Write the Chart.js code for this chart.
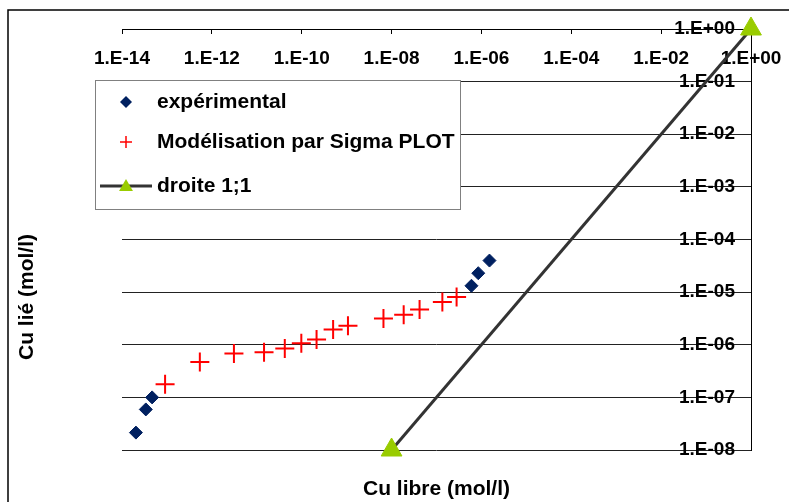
<!DOCTYPE html>
<html>
<head>
<meta charset="utf-8">
<script src="https://cdn.jsdelivr.net/npm/chart.js@4/dist/chart.umd.min.js"></script>
<style>
  html, body { margin:0; padding:0; background:#fff; }
  canvas { display:block; }
</style>
</head>
<body>
<canvas id="cuChart" width="789" height="502"></canvas>
<script>
// ---------------------------
// Data
// ---------------------------
const expX = [2.04e-14, 3.39e-14, 4.68e-14, 6.0e-7, 8.5e-7, 1.51e-6];
const expY = [2.14e-8, 5.9e-8, 1.0e-7, 1.32e-5, 2.29e-5, 3.98e-5];

const modX = [9.1e-14, 5.4e-13, 3.1e-12, 1.45e-11, 4.2e-11, 9.8e-11, 2.14e-10,
              5.0e-10, 1.07e-9, 6.6e-9, 1.86e-8, 4.2e-8, 1.35e-7, 2.8e-7];
const modY = [1.78e-7, 4.7e-7, 6.8e-7, 7.2e-7, 8.5e-7, 1.07e-6, 1.26e-6,
              1.95e-6, 2.29e-6, 3.16e-6, 3.7e-6, 4.7e-6, 6.5e-6, 8.1e-6];

const lineX = [1e-8, 1];
const lineY = [1e-8, 1];

const seriesNames = ['expérimental', 'Modélisation par Sigma PLOT', 'droite 1;1'];

const xTickValues = [1e-14, 1e-12, 1e-10, 1e-8, 1e-6, 1e-4, 1e-2, 1];
const xTickLabels = ['1.E-14','1.E-12','1.E-10','1.E-08','1.E-06','1.E-04','1.E-02','1.E+00'];
const yTickValues = [1e-8, 1e-7, 1e-6, 1e-5, 1e-4, 1e-3, 1e-2, 1e-1, 1];
const yTickLabels = ['1.E-08','1.E-07','1.E-06','1.E-05','1.E-04','1.E-03','1.E-02','1.E-01','1.E+00'];

const xTitle = 'Cu libre (mol/l)';
const yTitle = 'Cu lié (mol/l)';

const pts = (xs, ys) => xs.map((x, i) => ({ x, y: ys[i] }));

const FONT = '"Liberation Sans", Arial, sans-serif';
const NAVY = '#002060', RED = '#ff0000', GREEN = '#99cc00', DARK = '#333333';

// ---------------------------
// Frame, titles and legend
// ---------------------------
function marker(ctx, style, x, y, r, color){
  ctx.save();
  ctx.fillStyle = color; ctx.strokeStyle = color;
  ctx.beginPath();
  if (style === 'rectRot'){
    ctx.moveTo(x, y - r); ctx.lineTo(x + r, y); ctx.lineTo(x, y + r); ctx.lineTo(x - r, y);
    ctx.closePath(); ctx.fill();
  } else if (style === 'cross'){
    ctx.lineWidth = 1.5;
    ctx.moveTo(x - r, y); ctx.lineTo(x + r, y);
    ctx.moveTo(x, y - r); ctx.lineTo(x, y + r);
    ctx.stroke();
  } else if (style === 'triangle'){
    ctx.moveTo(x, y - r); ctx.lineTo(x + r * 0.866, y + r * 0.5); ctx.lineTo(x - r * 0.866, y + r * 0.5);
    ctx.closePath(); ctx.fill();
  }
  ctx.restore();
}

const decorPlugin = {
  id: 'decor',
  beforeDraw(chart){
    const ctx = chart.ctx;
    ctx.save();
    ctx.strokeStyle = '#000'; ctx.lineWidth = 1.5;
    ctx.beginPath();
    ctx.moveTo(8, 502); ctx.lineTo(8, 10); ctx.lineTo(789, 10);
    ctx.stroke();
    ctx.fillStyle = '#000';
    ctx.font = 'bold 21px ' + FONT;
    ctx.textAlign = 'center'; ctx.textBaseline = 'middle';
    const a = chart.chartArea;
    ctx.fillText(xTitle, (a.left + a.right) / 2, 489);
    ctx.translate(27, 297); ctx.rotate(-Math.PI / 2);
    ctx.fillText(yTitle, 0, 0);
    ctx.restore();
  },
  afterDraw(chart){
    const ctx = chart.ctx;
    ctx.save();
    ctx.fillStyle = '#fff'; ctx.strokeStyle = '#808080'; ctx.lineWidth = 1;
    ctx.fillRect(95.5, 80.5, 365, 129);
    ctx.strokeRect(95.5, 80.5, 365, 129);
    const rows = [102, 142, 186];
    chart.data.datasets.forEach((ds, i) => {
      const y = rows[i];
      if (ds.showLine){
        ctx.strokeStyle = ds.borderColor; ctx.lineWidth = 3;
        ctx.beginPath(); ctx.moveTo(100, y); ctx.lineTo(152, y); ctx.stroke();
        marker(ctx, ds.pointStyle, 126, y + 1, 8, ds.pointBackgroundColor);
      } else {
        marker(ctx, ds.pointStyle, 126, y, 6, ds.pointStyle === 'cross' ? ds.pointBorderColor : ds.pointBackgroundColor);
      }
      ctx.fillStyle = '#000';
      ctx.font = 'bold 21px ' + FONT;
      ctx.textAlign = 'left'; ctx.textBaseline = 'middle';
      ctx.fillText(ds.label, 157, y);
    });
    ctx.restore();
  }
};

// ---------------------------
// Chart
// ---------------------------
new Chart(document.getElementById('cuChart'), {
  type: 'scatter',
  data: {
    datasets: [
      { label: seriesNames[0], data: pts(expX, expY), pointStyle: 'rectRot', pointRadius: 6.5,
        pointBackgroundColor: NAVY, pointBorderColor: NAVY, pointBorderWidth: 1, clip: false },
      { label: seriesNames[1], data: pts(modX, modY), pointStyle: 'cross', pointRadius: 9.5,
        pointBackgroundColor: RED, pointBorderColor: RED, pointBorderWidth: 2, clip: false },
      { label: seriesNames[2], data: pts(lineX, lineY), showLine: true, borderColor: DARK, borderWidth: 3,
        pointStyle: 'triangle', pointRadius: 12, pointBackgroundColor: GREEN, pointBorderColor: GREEN,
        pointBorderWidth: 1, clip: false }
    ]
  },
  options: {
    responsive: false,
    animation: false,
    events: [],
    layout: { padding: { left: 122, top: 10, right: 30, bottom: 52 } },
    plugins: { legend: { display: false }, tooltip: { enabled: false } },
    scales: {
      x: {
        type: 'logarithmic', position: 'top', min: 1e-14, max: 1,
        afterBuildTicks: s => { s.ticks = xTickValues.map(v => ({ value: v })); },
        afterFit: s => { s.height = 19; s.paddingLeft = 0; s.paddingRight = 0; },
        grid: { drawOnChartArea: false, tickLength: -5, color: '#000' },
        border: { display: true, color: '#000', width: 1 },
        ticks: { mirror: true, autoSkip: false, maxRotation: 0, padding: 18, color: '#000',
                 font: { family: FONT, size: 19, weight: 'bold' },
                 callback: (v, i) => xTickLabels[i] }
      },
      y: {
        type: 'logarithmic', position: 'right', min: 1e-8, max: 1,
        afterBuildTicks: s => { s.ticks = yTickValues.map(v => ({ value: v })); },
        afterFit: s => { s.width = 8; },
        grid: { drawTicks: false, color: '#222', lineWidth: 1 },
        border: { display: true, color: '#000', width: 1 },
        ticks: { mirror: true, autoSkip: false, padding: -16, color: '#000',
                 font: { family: FONT, size: 19, weight: 'bold' },
                 callback: (v, i) => yTickLabels[i] }
      }
    }
  },
  plugins: [decorPlugin]
});
</script>
</body>
</html>
